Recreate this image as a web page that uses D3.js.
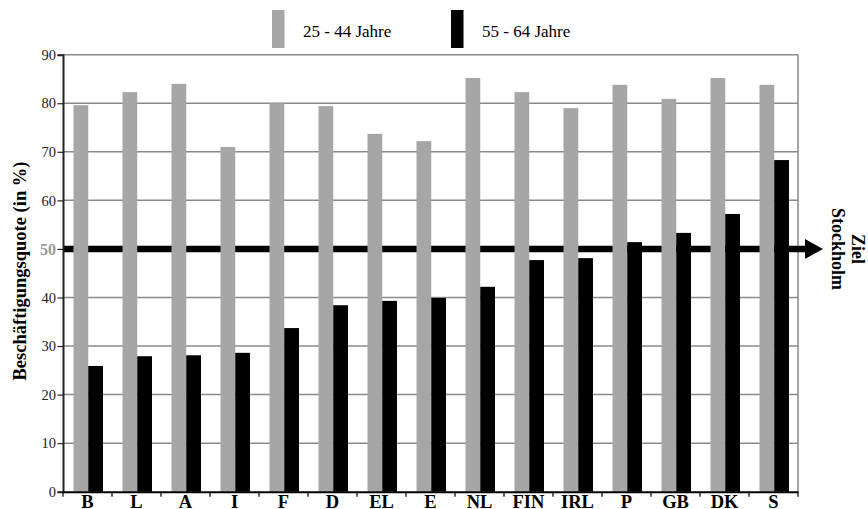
<!DOCTYPE html>
<html>
<head>
<meta charset="utf-8">
<script src="https://cdn.jsdelivr.net/npm/d3@7"></script>
<style>
  body { margin: 0; background: #fff; }
  svg text { font-family: "Liberation Serif", "DejaVu Serif", serif; }
</style>
</head>
<body>
<svg id="chart" width="868" height="509"></svg>
<script>
// ******************** Data ************************
var countries = ["B", "L", "A", "I", "F", "D", "EL", "E", "NL", "FIN", "IRL", "P", "GB", "DK", "S"];
var seriesNames = ["25 - 44 Jahre", "55 - 64 Jahre"];
var young = [79.6, 82.3, 84.0, 71.0, 80.0, 79.4, 73.7, 72.2, 85.2, 82.3, 79.0, 83.8, 80.9, 85.2, 83.8];
var old = [25.9, 27.9, 28.1, 28.6, 33.7, 38.4, 39.3, 39.9, 42.2, 47.7, 48.1, 51.4, 53.3, 57.2, 68.3];
var yTicks = [0, 10, 20, 30, 40, 50, 60, 70, 80, 90];
var target = 50;
var colors = ["#a6a6a6", "#000000"];

var svg = d3.select("#chart");
var plotLeft = 63, plotRight = 798, plotTop = 54.7, plotBottom = 491.7;

var x0 = d3.scaleBand().domain(countries).range([plotLeft, plotRight]).padding(0);
var x1 = d3.scaleBand().domain(seriesNames).range([10.5, 40]).padding(0);
var y = d3.scaleLinear().domain([0, 90]).range([plotBottom, plotTop]);

// gridlines
svg.append("g")
    .selectAll("line")
    .data(yTicks.filter(function (d) { return d > 0; }))
    .enter()
    .append("line")
    .attr("x1", plotLeft).attr("x2", plotRight)
    .attr("y1", function (d) { return y(d); })
    .attr("y2", function (d) { return y(d); })
    .style("stroke", "#8a8a8a")
    .style("stroke-width", 1.5);

// right border
svg.append("line")
    .attr("x1", plotRight).attr("x2", plotRight)
    .attr("y1", y(90)).attr("y2", y(0))
    .style("stroke", "#8a8a8a")
    .style("stroke-width", 1.5);

// target line with arrow
var yt = y(target);
svg.append("line")
    .attr("x1", plotLeft).attr("x2", 806)
    .attr("y1", yt).attr("y2", yt)
    .style("stroke", "#000")
    .style("stroke-width", 6.5);
svg.append("path")
    .attr("d", d3.line()([[805, yt - 10], [823, yt], [805, yt + 10]]))
    .style("fill", "#000");

// bars
var groups = svg.append("g")
    .selectAll("g")
    .data(countries)
    .enter()
    .append("g")
    .attr("transform", function (d) { return "translate(" + x0(d) + ",0)"; });

groups.selectAll("rect")
    .data(function (d, i) {
        return [{ s: seriesNames[0], v: young[i], c: colors[0] },
                { s: seriesNames[1], v: old[i], c: colors[1] }];
    })
    .enter()
    .append("rect")
    .attr("x", function (d) { return x1(d.s); })
    .attr("width", x1.bandwidth())
    .attr("y", function (d) { return y(d.v); })
    .attr("height", function (d) { return y(0) - y(d.v); })
    .style("fill", function (d) { return d.c; });

// y axis
var yAxis = svg.append("g")
    .attr("transform", "translate(" + plotLeft + ",0)")
    .call(d3.axisLeft(y).tickValues(yTicks).tickSize(5.5).tickPadding(1.5));
yAxis.select(".domain").style("stroke", "#222").style("stroke-width", 2);
yAxis.selectAll(".tick line").style("stroke", "#222").style("stroke-width", 1.2);
yAxis.selectAll(".tick text")
    .style("font-size", "14.5px")
    .style("fill", "#222")
    .style("font-family", "'Liberation Serif', serif");
yAxis.selectAll(".tick")
    .filter(function (d) { return d === target; })
    .select("text")
    .style("font-size", "16px")
    .style("font-weight", "bold")
    .style("fill", "#999");

// x axis
var xAxis = svg.append("g")
    .attr("transform", "translate(0," + plotBottom + ")")
    .call(d3.axisBottom(x0).tickSize(0).tickPadding(3));
xAxis.select(".domain").style("stroke", "#000").style("stroke-width", 2);
xAxis.selectAll(".tick text")
    .style("font-size", "18.5px")
    .style("font-weight", "bold")
    .style("fill", "#000")
    .style("font-family", "'Liberation Serif', serif");
xAxis.selectAll("line.sep")
    .data(countries.map(function (d) { return x0(d); }).concat([plotRight]))
    .enter()
    .append("line")
    .attr("class", "sep")
    .attr("x1", function (d) { return d; })
    .attr("x2", function (d) { return d; })
    .attr("y1", 0).attr("y2", 5)
    .style("stroke", "#000")
    .style("stroke-width", 1.2);

// y label
svg.append("text")
    .attr("transform", "translate(26,271) rotate(-90)")
    .attr("text-anchor", "middle")
    .style("font-size", "18.5px")
    .style("font-weight", "bold")
    .text("Beschäftigungsquote (in %)");

// target label
var tl = svg.append("text")
    .attr("transform", "translate(842," + yt + ") rotate(90)")
    .attr("text-anchor", "middle")
    .style("font-size", "18px")
    .style("font-weight", "bold");
tl.append("tspan").attr("x", 0).attr("y", -10).text("Ziel");
tl.append("tspan").attr("x", 0).attr("y", 10).text("Stockholm");

// legend
var legendX = [272, 451];
var legend = svg.append("g")
    .selectAll("g")
    .data(seriesNames)
    .enter()
    .append("g")
    .attr("transform", function (d, i) { return "translate(" + legendX[i] + ",10)"; });
legend.append("rect")
    .attr("width", 12.5).attr("height", 38)
    .style("fill", function (d, i) { return colors[i]; });
legend.append("text")
    .attr("x", 31).attr("y", 27)
    .style("font-size", "17px")
    .text(function (d) { return d; });
</script>
</body>
</html>
